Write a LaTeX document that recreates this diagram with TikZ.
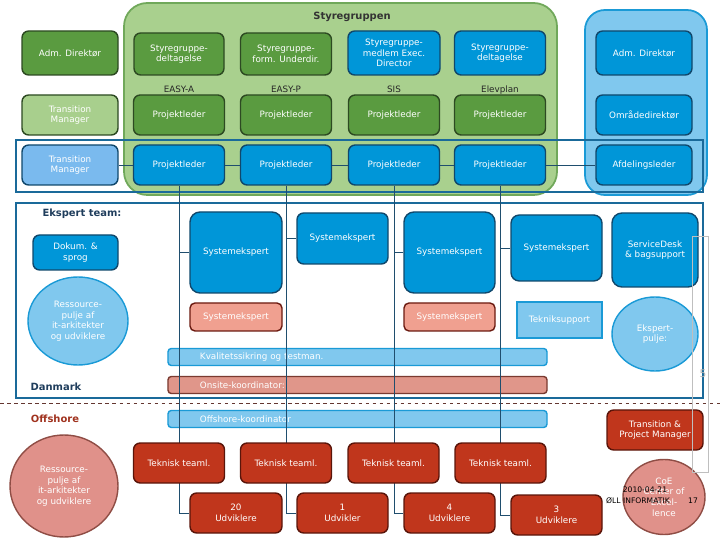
\documentclass[tikz,border=0pt]{standalone}
\usepackage{fontspec}
\setmainfont{DejaVu Sans}
\usetikzlibrary{positioning,shapes.geometric,calc}
\definecolor{sgbg}{RGB}{169,208,142}
\definecolor{sgline}{RGB}{112,168,90}
\definecolor{dkgreen}{RGB}{90,155,64}
\definecolor{greenline}{RGB}{45,74,34}
\definecolor{ltgreen}{RGB}{168,207,141}
\definecolor{midblue}{RGB}{0,150,216}
\definecolor{blueline}{RGB}{16,72,108}
\definecolor{ltblue}{RGB}{128,200,238}
\definecolor{ltblueline}{RGB}{26,154,214}
\definecolor{tmblue}{RGB}{122,186,238}
\definecolor{frameblue}{RGB}{26,106,154}
\definecolor{sepink}{RGB}{240,160,144}
\definecolor{pinkline}{RGB}{107,26,16}
\definecolor{onsite}{RGB}{224,150,138}
\definecolor{onsiteline}{RGB}{122,58,48}
\definecolor{offred}{RGB}{192,54,28}
\definecolor{offredline}{RGB}{90,21,10}
\definecolor{salmon}{RGB}{224,145,138}
\definecolor{salmonline}{RGB}{143,77,69}
\definecolor{darktext}{RGB}{31,61,92}
\definecolor{offtext}{RGB}{160,50,30}
\definecolor{connline}{RGB}{31,78,110}

\begin{document}
\begin{tikzpicture}[x=0.03cm,y=-0.03cm,
  every node/.style={font=\fontsize{7.5}{9}\selectfont,align=center,inner sep=1pt,text=white},
  sz/.style 2 args={minimum width=#1*0.03cm,minimum height=#2*0.03cm},
  grbox/.style={draw=greenline,fill=dkgreen,rounded corners=2mm,line width=1.2pt},
  lgbox/.style={draw=greenline,fill=ltgreen,rounded corners=2mm,line width=1.2pt},
  blbox/.style={draw=blueline,fill=midblue,rounded corners=2mm,line width=1.2pt},
  tmbox/.style={draw=blueline,fill=tmblue,rounded corners=2mm,line width=1.2pt},
  pkbox/.style={draw=pinkline,fill=sepink,rounded corners=1.5mm,line width=1.2pt},
  rdbox/.style={draw=offredline,fill=offred,rounded corners=2mm,line width=1.2pt},
  bar/.style={rounded corners=1mm,line width=1.2pt,text width=9.45cm,align=left,inner xsep=0.96cm,sz={379}{17}},
  lbl/.style={text=black!85},
  conn/.style={draw=connline,line width=0.6pt},
  frame/.style={draw=frameblue,line width=2pt}]
\useasboundingbox (0,0) rectangle (720,540);

% Styregruppen
\node[draw=sgline,fill=sgbg,rounded corners=7mm,line width=1.5pt,sz={433}{192}] (styr) at (340.5,99) {};
\node[lbl,font=\fontsize{8.5}{10}\selectfont\bfseries,text=black!80] (styrt) at (352,17) {Styregruppen};
\node[draw=ltblueline,fill=ltblue,rounded corners=6mm,line width=1.5pt,sz={122}{185}] (ledelse) at (646,102.5) {};

% row 1
\node[grbox,sz={96}{44}] (adm1) at (70,53) {Adm. Direktør};
\node[grbox,sz={90}{42}] (sgd1) at (179,54) {Styregruppe-\\deltagelse};
\node[grbox,sz={91}{42}] (sgu) at (286,54) {Styregruppe-\\form. Underdir.};
\node[blbox,sz={92}{44}] (sgm) at (394,53) {Styregruppe-\\medlem Exec.\\Director};
\node[blbox,sz={91}{44}] (sgd2) at (500,53) {Styregruppe-\\deltagelse};
\node[blbox,sz={96}{44}] (adm2) at (644,53) {Adm. Direktør};

\node[lbl] (easya) at (179,89) {EASY-A};
\node[lbl] (easyp) at (286,89) {EASY-P};
\node[lbl] (sis) at (394,89) {SIS};
\node[lbl] (elev) at (500,90) {Elevplan};

% row 2
\node[lgbox,sz={96}{40}] (tm1) at (70,115) {Transition\\Manager};
\node[grbox,sz={91}{40}] (pl2a) at (179,115) {Projektleder};
\node[grbox,sz={91}{40}] (pl2b) at (286,115) {Projektleder};
\node[grbox,sz={91}{40}] (pl2c) at (394,115) {Projektleder};
\node[grbox,sz={91}{40}] (pl2d) at (500,115) {Projektleder};
\node[blbox,sz={96}{40}] (omr) at (644,115) {Områdedirektør};

% row 3
\draw[frame] (16,140) rectangle (703,192);
\node[tmbox,sz={96}{40}] (tm2) at (70,165) {Transition\\Manager};
\node[blbox,sz={91}{40}] (pl3a) at (179,165) {Projektleder};
\node[blbox,sz={91}{40}] (pl3b) at (286,165) {Projektleder};
\node[blbox,sz={91}{40}] (pl3c) at (394,165) {Projektleder};
\node[blbox,sz={91}{40}] (pl3d) at (500,165) {Projektleder};
\node[blbox,sz={96}{40}] (afd) at (644,165) {Afdelingsleder};
\draw[conn] (tm2.east) -- (pl3a.west);
\draw[conn] (pl3a.east) -- (pl3b.west);
\draw[conn] (pl3b.east) -- (pl3c.west);
\draw[conn] (pl3c.east) -- (pl3d.west);
\draw[conn] (pl3d.east) -- (afd.west);

% Ekspert team
\draw[frame] (16,203) rectangle (703,398);
\node[lbl,font=\fontsize{8.5}{10}\selectfont\bfseries,text=darktext] (ekt) at (82,214) {Ekspert team:};
\node[blbox,sz={85}{35}] (dok) at (75.5,252.5) {Dokum. \&\\sprog};
\node[ellipse,draw=ltblueline,fill=ltblue,line width=1.2pt,sz={100}{88}] (ress1) at (78,321) {Ressource-\\pulje af\\it-arkitekter\\og udviklere};
\node[blbox,rounded corners=3mm,sz={92}{81}] (se1) at (236,252.5) {Systemekspert};
\node[blbox,sz={91}{51}] (se2) at (342.5,238.5) {Systemekspert};
\node[blbox,rounded corners=3mm,sz={91}{81}] (se3) at (449.5,252.5) {Systemekspert};
\node[blbox,rounded corners=2.5mm,sz={91}{66}] (se4) at (556.5,248) {Systemekspert};
\node[blbox,rounded corners=3mm,sz={86}{74}] (sdesk) at (655,250) {ServiceDesk\\\& bagsupport};
\node[pkbox,sz={92}{28}] (pk1) at (236,317) {Systemekspert};
\node[pkbox,sz={91}{28}] (pk2) at (449.5,317) {Systemekspert};
\node[draw=ltblueline,fill=ltblue,line width=1.2pt,sz={85}{36}] (tek) at (559.5,320) {Tekniksupport};
\node[ellipse,draw=ltblueline,fill=ltblue,line width=1.2pt,sz={86}{74}] (epulje) at (655,334) {Ekspert-\\pulje:};

% bars
\node[bar,draw=ltblueline,fill=ltblue] (kval) at (357.5,357) {Kvalitetssikring og testman.};
\node[bar,draw=onsiteline,fill=onsite] (onsk) at (357.5,385) {Onsite-koordinator:};
\draw[dashed,draw=salmonline!70!black,line width=0.8pt] (0,403) -- (720,403);
\node[bar,draw=ltblueline,fill=ltblue] (offk) at (357.5,419) {Offshore-koordinator};
\node[lbl,font=\fontsize{8.5}{10}\selectfont\bfseries,text=darktext] (dk) at (56,387) {Danmark};
\node[lbl,font=\fontsize{8.5}{10}\selectfont\bfseries,text=offtext] (off) at (55,419) {Offshore};

% offshore teams
\node[rdbox,sz={92}{40}] (ud1) at (236,513) {20\\Udviklere};
\node[rdbox,sz={91}{40}] (ud2) at (342.5,513) {1\\Udvikler};
\node[rdbox,sz={91}{40}] (ud3) at (449.5,513) {4\\Udviklere};
\node[rdbox,sz={91}{40}] (ud4) at (556.5,515) {3\\Udviklere};
\draw[conn] (pl3a.south) |- (ud1.west);
\draw[conn] (pl3b.south) |- (ud2.west);
\draw[conn] (pl3c.south) |- (ud3.west);
\draw[conn] (pl3d.south) |- (ud4.west);
\draw[conn] (se1.west) -- (se1.west -| pl3a.south);
\draw[conn] (se2.west) -- (se2.west -| pl3b.south);
\draw[conn] (se3.west) -- (se3.west -| pl3c.south);
\draw[conn] (se4.west) -- (se4.west -| pl3d.south);
\node[rdbox,sz={91}{40}] (tt1) at (179,463) {Teknisk teaml.};
\node[rdbox,sz={91}{40}] (tt2) at (286,463) {Teknisk teaml.};
\node[rdbox,sz={91}{40}] (tt3) at (393.5,463) {Teknisk teaml.};
\node[rdbox,sz={91}{40}] (tt4) at (500.5,463) {Teknisk teaml.};
\node[rdbox,sz={96}{40}] (tpm) at (655,430) {Transition \&\\Project Manager};
\node[ellipse,draw=salmonline,fill=salmon,line width=1.2pt,sz={108}{102}] (ress2) at (64,486) {Ressource-\\pulje af\\it-arkitekter\\og udviklere};
\node[ellipse,draw=salmonline,fill=salmon,line width=1.2pt,sz={82}{75}] (coe) at (664,497) {CoE\\Center of\\Excel-\\lence};

% footer
\draw[black!25,line width=0.5pt] (692,236) rectangle (708,472);
\node[text=black!30,font=\fontsize{9}{10}\selectfont] (pgno) at (703,374) {5};
\node[text=black,font=\fontsize{6.5}{7}\selectfont] (dato) at (645,490) {2010-04-21};
\node[text=black,font=\fontsize{6.5}{7}\selectfont] (firma) at (638,501) {ØLL INFORMATIK};
\node[text=black,font=\fontsize{6.5}{7}\selectfont] (side) at (693,501) {17};
\end{tikzpicture}
\end{document}
